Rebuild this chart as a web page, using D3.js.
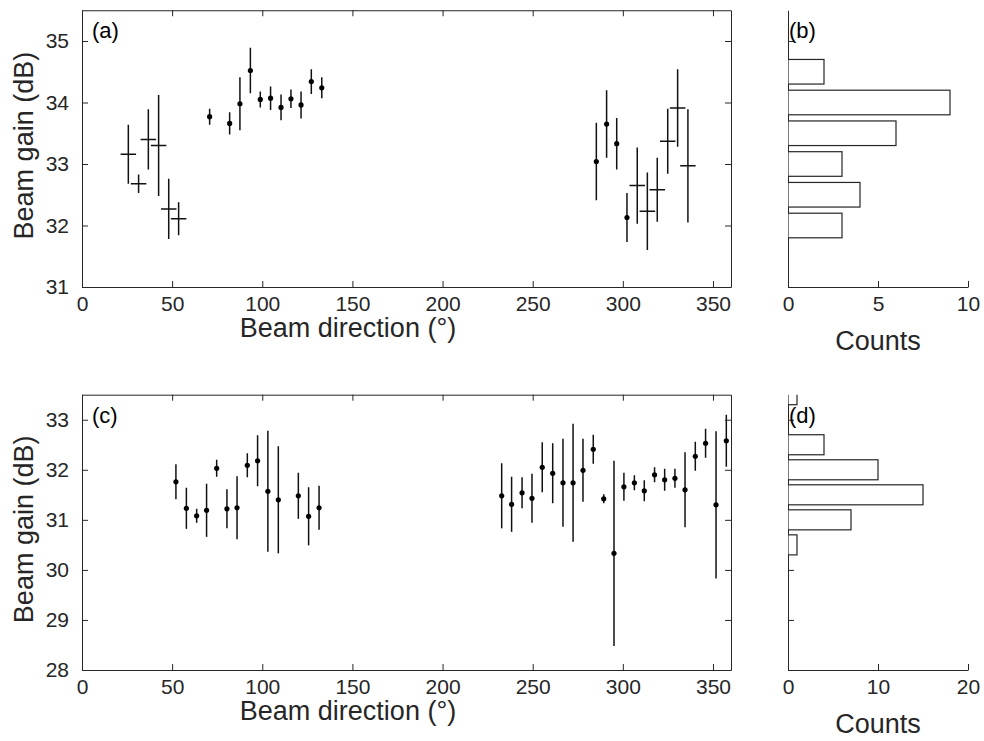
<!DOCTYPE html>
<html>
<head>
<meta charset="utf-8">
<script src="https://cdn.jsdelivr.net/npm/d3@7"></script>
<style>
  body { margin: 0; background: #fff; }
  svg { display: block; font-family: "Liberation Sans", Arial, Helvetica, sans-serif; }
</style>
</head>
<body>
<div id="chart"></div>
<script>
// Top row: beam direction (deg), beam gain (dB), gain error, direction error
var dirA = [25.7, 31.4, 36.8, 42.5, 48.1, 53.6, 70.8, 81.9, 87.6, 93.4, 98.9, 104.6, 110.4, 115.9, 121.5, 127.2, 133.0,
            285.3, 291.0, 296.6, 302.3, 308.0, 313.6, 319.1, 324.9, 330.4, 336.1];
var gainA = [33.16, 32.68, 33.40, 33.30, 32.27, 32.11, 33.77, 33.66, 33.98, 34.52, 34.05, 34.07, 33.92, 34.06, 33.96, 34.34, 34.24,
             33.04, 33.65, 33.33, 32.13, 32.65, 32.23, 32.58, 33.37, 33.91, 32.97];
var errA = [0.48, 0.15, 0.49, 0.82, 0.49, 0.27, 0.13, 0.18, 0.43, 0.37, 0.13, 0.19, 0.21, 0.15, 0.22, 0.20, 0.17,
            0.63, 0.55, 0.42, 0.40, 0.62, 0.63, 0.52, 0.53, 0.63, 0.92];
var dirErrA = [4.3, 4.3, 4.3, 4.3, 4.3, 4.3, 0, 0, 0, 0, 0, 0, 0, 0, 0, 0, 0,
               0, 0, 0, 0, 4.3, 4.3, 4.3, 4.3, 4.3, 4.3];

// Bottom row
var dirC = [52.1, 57.9, 63.6, 69.1, 74.7, 80.4, 86.0, 91.7, 97.4, 103.1, 108.9, 120.0, 125.7, 131.5,
            232.8, 238.3, 244.1, 249.6, 255.3, 261.1, 266.8, 272.4, 277.9, 283.6, 289.4, 295.1, 300.6, 306.4,
            311.9, 317.6, 323.2, 328.9, 334.5, 340.2, 345.9, 351.7, 357.4];
var gainC = [31.76, 31.23, 31.08, 31.19, 32.03, 31.22, 31.24, 32.09, 32.18, 31.57, 31.40, 31.48, 31.07, 31.24,
             31.48, 31.31, 31.54, 31.43, 32.05, 31.93, 31.74, 31.74, 31.99, 32.41, 31.42, 30.33, 31.66, 31.74,
             31.58, 31.90, 31.80, 31.83, 31.60, 32.27, 32.53, 31.30, 32.58];
var errC = [0.35, 0.41, 0.14, 0.53, 0.17, 0.39, 0.63, 0.24, 0.51, 1.21, 1.07, 0.46, 0.58, 0.44,
            0.65, 0.55, 0.31, 0.49, 0.50, 0.60, 0.88, 1.18, 0.63, 0.29, 0.09, 1.85, 0.28, 0.15,
            0.21, 0.15, 0.22, 0.19, 0.75, 0.29, 0.29, 1.47, 0.52];

// Histograms (bin centre in dB, counts)
var binsB = [32.0, 32.5, 33.0, 33.5, 34.0, 34.5];
var countsB = [3, 4, 3, 6, 9, 2];
var binsD = [30.5, 31.0, 31.5, 32.0, 32.5, 33.0, 33.5];
var countsD = [1, 7, 15, 10, 4, 0, 1];

// Tick values
var dirTicks = [0, 50, 100, 150, 200, 250, 300, 350];
var gainTicksA = [31, 32, 33, 34, 35];
var gainTicksC = [28, 29, 30, 31, 32, 33];
var countTicksB = [0, 5, 10];
var countTicksD = [0, 10, 20];

var width = 984, height = 741,
    axisColor = "#262626",
    tickLen = 6,
    tickFont = 21,
    labelFont = 27;

var svg = d3.select("#chart").append("svg")
    .attr("width", width)
    .attr("height", height);

var xA = d3.scaleLinear().domain([0, 360]).range([82, 731]),
    yA = d3.scaleLinear().domain([31, 35.5]).range([287, 10.25]),
    xC = d3.scaleLinear().domain([0, 360]).range([82, 731]),
    yC = d3.scaleLinear().domain([28, 33.5]).range([670, 394.7]),
    xB = d3.scaleLinear().domain([0, 10]).range([788, 968]),
    xD = d3.scaleLinear().domain([0, 20]).range([788, 968]);

drawScatter("a", xA, yA, dirA, gainA, errA, dirErrA, gainTicksA);
drawScatter("c", xC, yC, dirC, gainC, errC, null, gainTicksC);
drawHist("b", xB, yA, binsB, countsB, countTicksB, gainTicksA);
drawHist("d", xD, yC, binsD, countsD, countTicksD, gainTicksC);

function styleAxis(g) {
    g.selectAll("path, line").attr("stroke", axisColor);
    g.selectAll("text").attr("fill", "#262626").style("font-size", tickFont + "px");
}

function clip(id, x, y) {
    svg.append("clipPath").attr("id", id)
        .append("rect")
        .attr("x", x.range()[0]).attr("y", y.range()[1])
        .attr("width", x.range()[1] - x.range()[0])
        .attr("height", y.range()[0] - y.range()[1]);
}

function drawScatter(name, x, y, dir, gain, err, dirErr, yTicks) {
    var g = svg.append("g");
    var x0 = x.range()[0], x1 = x.range()[1], y0 = y.range()[0], y1 = y.range()[1];

    g.append("g").attr("transform", "translate(0," + y0 + ")")
        .call(d3.axisBottom(x).tickValues(dirTicks).tickSizeInner(-tickLen).tickSizeOuter(0).tickPadding(9))
        .call(styleAxis);
    g.append("g").attr("transform", "translate(0," + y1 + ")")
        .call(d3.axisTop(x).tickValues(dirTicks).tickSizeInner(-tickLen).tickSizeOuter(0).tickFormat(""))
        .call(styleAxis);
    g.append("g").attr("transform", "translate(" + x0 + ",0)")
        .call(d3.axisLeft(y).tickValues(yTicks).tickFormat(d3.format("d"))
            .tickSizeInner(-tickLen).tickSizeOuter(0).tickPadding(13))
        .call(styleAxis);
    g.append("g").attr("transform", "translate(" + x1 + ",0)")
        .call(d3.axisRight(y).tickValues(yTicks).tickSizeInner(-tickLen).tickSizeOuter(0).tickFormat(""))
        .call(styleAxis);

    clip("clip-" + name, x, y);
    var pts = dir.map(function (d, i) {
        return { dir: d, gain: gain[i], err: err[i], dirErr: dirErr ? dirErr[i] : 0 };
    });
    var marks = g.append("g").attr("clip-path", "url(#clip-" + name + ")");

    marks.selectAll(".vbar").data(pts).enter().append("line")
        .attr("x1", function (d) { return x(d.dir); })
        .attr("x2", function (d) { return x(d.dir); })
        .attr("y1", function (d) { return y(d.gain - d.err); })
        .attr("y2", function (d) { return y(d.gain + d.err); })
        .attr("stroke", "#111").attr("stroke-width", 1.5);

    marks.selectAll(".hbar").data(pts.filter(function (d) { return d.dirErr > 0; })).enter().append("line")
        .attr("x1", function (d) { return x(d.dir - d.dirErr); })
        .attr("x2", function (d) { return x(d.dir + d.dirErr); })
        .attr("y1", function (d) { return y(d.gain); })
        .attr("y2", function (d) { return y(d.gain); })
        .attr("stroke", "#111").attr("stroke-width", 1.5);

    marks.selectAll(".dot").data(pts.filter(function (d) { return d.dirErr === 0; })).enter().append("circle")
        .attr("cx", function (d) { return x(d.dir); })
        .attr("cy", function (d) { return y(d.gain); })
        .attr("r", 2.6)
        .attr("fill", "#000");

    g.append("text")
        .attr("x", 348).attr("y", y0 + 50)
        .attr("text-anchor", "middle")
        .style("font-size", labelFont + "px").attr("fill", "#262626")
        .text("Beam direction (°)");

    g.append("text")
        .attr("transform", "translate(33," + ((y0 + y1) / 2 - 3) + ") rotate(-90)")
        .attr("text-anchor", "middle")
        .style("font-size", labelFont + "px").attr("fill", "#262626")
        .text("Beam gain (dB)");

    g.append("text")
        .attr("x", x0 + 10).attr("y", y1 + 28)
        .style("font-size", "22px").attr("fill", "#000")
        .text("(" + name + ")");
}

function drawHist(name, x, y, bins, counts, xTicks, yTicks) {
    var g = svg.append("g");
    var x0 = x.range()[0], y0 = y.range()[0], y1 = y.range()[1];
    var binWidth = bins[1] - bins[0], barH = 0.8 * binWidth;

    g.append("g").attr("transform", "translate(0," + y0 + ")")
        .call(d3.axisBottom(x).tickValues(xTicks).tickSizeInner(-tickLen).tickSizeOuter(0).tickPadding(9))
        .call(styleAxis);
    g.append("g").attr("transform", "translate(" + x0 + ",0)")
        .call(d3.axisLeft(y).tickValues(yTicks).tickSizeInner(-tickLen).tickSizeOuter(0).tickFormat(""))
        .call(styleAxis);

    clip("clip-" + name, x, y);
    g.append("g").attr("clip-path", "url(#clip-" + name + ")")
        .selectAll("rect")
        .data(bins.map(function (b, i) { return { bin: b, count: counts[i] }; })
            .filter(function (d) { return d.count > 0; }))
        .enter().append("rect")
        .attr("x", x(0))
        .attr("y", function (d) { return y(d.bin + barH / 2); })
        .attr("width", function (d) { return x(d.count) - x(0); })
        .attr("height", function (d) { return y(d.bin - barH / 2) - y(d.bin + barH / 2); })
        .attr("fill", "#fff")
        .attr("stroke", axisColor).attr("stroke-width", 1.2);

    g.append("text")
        .attr("x", (x.range()[0] + x.range()[1]) / 2).attr("y", y0 + 63)
        .attr("text-anchor", "middle")
        .style("font-size", labelFont + "px").attr("fill", "#262626")
        .text("Counts");

    g.append("text")
        .attr("x", x0 + 1).attr("y", y1 + 28)
        .style("font-size", "22px").attr("fill", "#000")
        .text("(" + name + ")");
}
</script>
</body>
</html>
